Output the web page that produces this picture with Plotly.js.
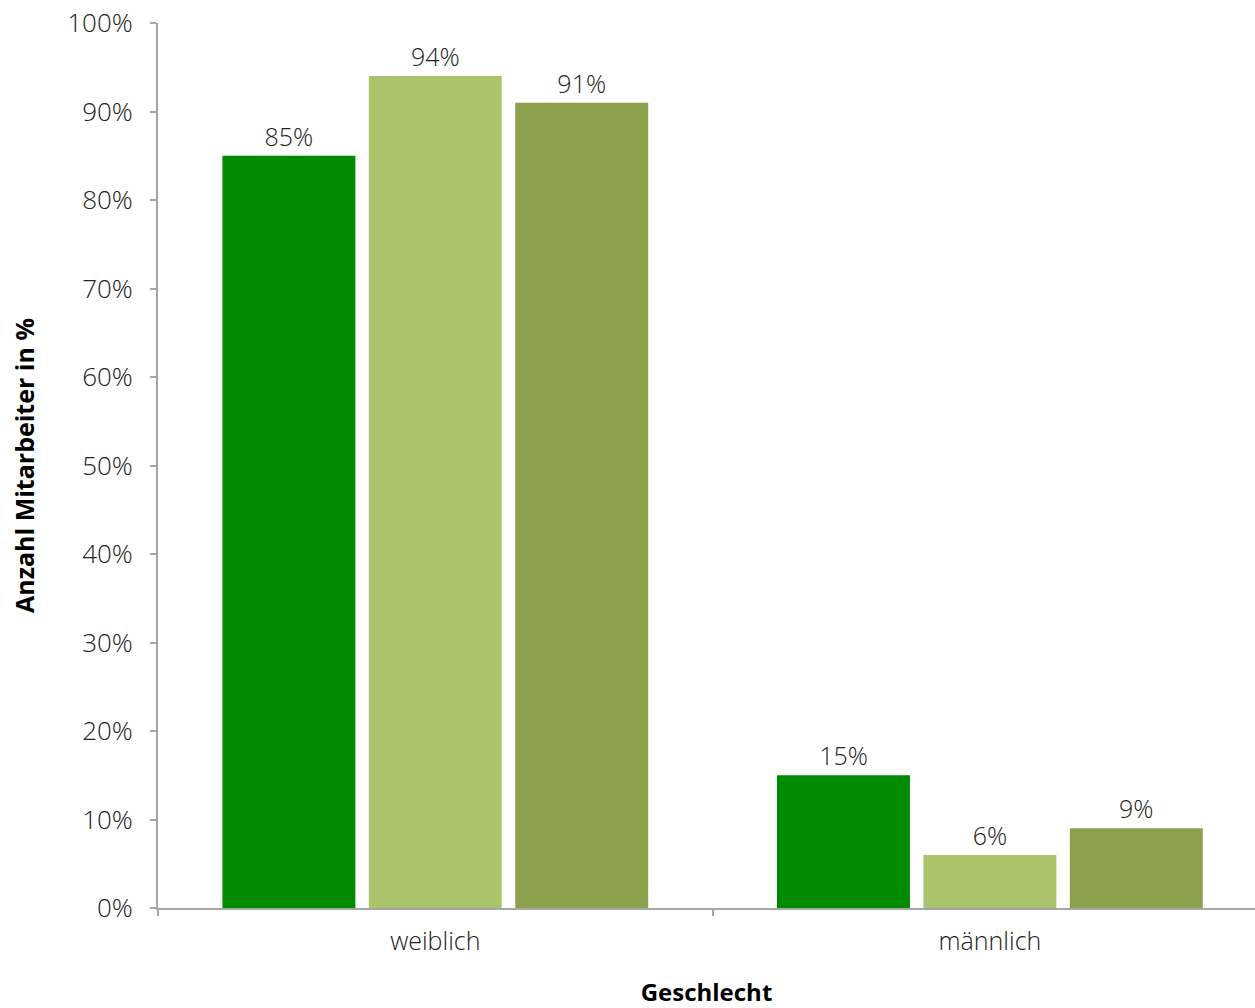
<!DOCTYPE html>
<html>
<head>
<meta charset="utf-8">
<script src="https://cdn.plot.ly/plotly-3.0.1.min.js"></script>
<style>html,body{margin:0;padding:0;background:#fff;}#chart{width:1255px;height:1008px;}</style>
</head>
<body>
<div id="chart"></div>
<script>
const categories = ["weiblich", "männlich"];
const seriesNames = ["Serie 1", "Serie 2", "Serie 3"];
const series1 = [85, 15];
const series2 = [94, 6];
const series3 = [91, 9];
const colors = ["#008a00", "#abc46c", "#8ba04a"];
const yTicks = [0, 10, 20, 30, 40, 50, 60, 70, 80, 90, 100];

const FONT = "'Open Sans', Lato, sans-serif";
const TXT = "#222222";
const values = [series1, series2, series3];
const traces = values.map((v, i) => ({
  type: "bar",
  name: seriesNames[i],
  x: categories,
  y: v,
  marker: {color: colors[i]},
  text: v.map(d => d + "%"),
  textposition: "outside",
  textfont: {family: FONT, size: 25, color: TXT, weight: 300},
  cliponaxis: false,
  hoverinfo: "x+y"
}));

const layout = {
  width: 1255, height: 1008,
  margin: {l: 158, r: 0, t: 23, b: 100},
  paper_bgcolor: "#ffffff", plot_bgcolor: "#ffffff",
  showlegend: false,
  barmode: "group",
  bargap: 0.208,
  bargroupgap: 0.092,
  font: {family: FONT, color: TXT},
  xaxis: {
    range: [-0.5, 1.478],
    showline: true, linecolor: "#a6a6a6", linewidth: 2,
    ticks: "outside", tickson: "boundaries", ticklen: 6, tickcolor: "#a6a6a6", tickwidth: 2,
    tickfont: {family: FONT, size: 25, color: TXT, weight: 300},
    ticklabelstandoff: 10,
    title: {text: "Geschlecht", font: {family: FONT, size: 24, color: "#000000", weight: "bold"}, standoff: 36},
    showgrid: false, zeroline: false
  },
  yaxis: {
    range: [0, 100], tickvals: yTicks, ticktext: yTicks.map(t => t + "%"),
    showline: true, linecolor: "#a6a6a6", linewidth: 2,
    ticks: "outside", ticklen: 6, tickcolor: "#a6a6a6", tickwidth: 2,
    tickfont: {family: FONT, size: 26, color: TXT, weight: 300},
    ticklabelstandoff: 12,
    title: {text: "Anzahl Mitarbeiter in %", font: {family: FONT, size: 25, color: "#000000", weight: "bold"}, standoff: 26},
    showgrid: false, zeroline: false
  }
};

Plotly.newPlot("chart", traces, layout, {displayModeBar: false, responsive: false});
</script>
</body>
</html>
